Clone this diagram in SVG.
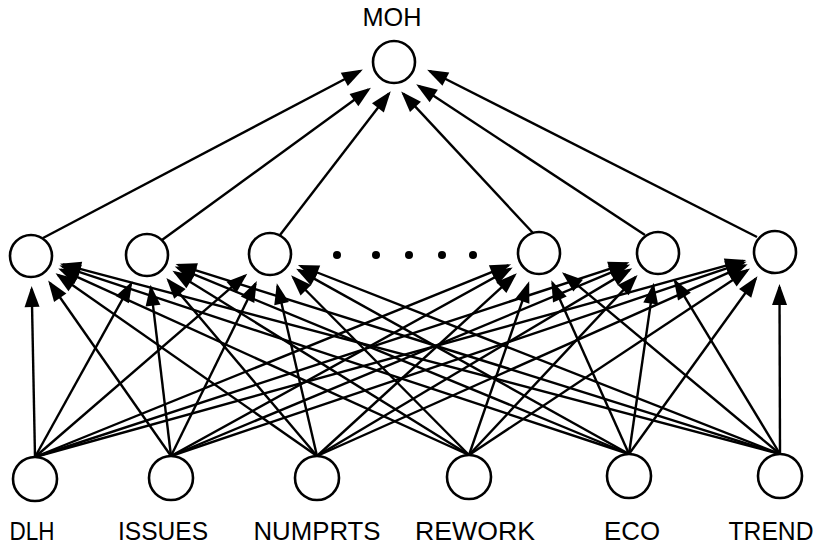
<svg xmlns="http://www.w3.org/2000/svg" width="817" height="546" viewBox="0 0 817 546">
<style>
.edges line{stroke:#000;stroke-width:2.4;fill:none;marker-end:url(#ah)}
.node circle{fill:#fff;stroke:#000;stroke-width:2.6}
.node text{font-family:"Liberation Sans",Arial,sans-serif;font-size:25px;fill:#000;text-anchor:middle}
.dot{fill:#000}
</style>
<defs>
<marker id="ah" markerUnits="userSpaceOnUse" markerWidth="24" markerHeight="16" refX="18" refY="7.5" orient="auto" overflow="visible">
<path d="M0,0 L21,7.5 L0,15 Z" fill="#000"/>
</marker>
</defs>
<rect width="817" height="546" fill="#fff"/>
<g id="connectors" class="edges">
<!-- hidden to MOH -->
<line x1="43" y1="238" x2="360.2" y2="71"/>
<line x1="162" y1="240" x2="368.5" y2="89.5"/>
<line x1="280" y1="235" x2="388.9" y2="93.6"/>
<line x1="533" y1="233" x2="403.2" y2="93.6"/>
<line x1="645" y1="235" x2="418.7" y2="86"/>
<line x1="757" y1="237" x2="429.8" y2="71"/>
<!-- DLH -->
<line x1="35" y1="457" x2="31.7" y2="289"/>
<line x1="35" y1="457" x2="131" y2="283.9"/>
<line x1="35" y1="457" x2="245" y2="275.6"/>
<line x1="35" y1="457" x2="508.4" y2="265.4"/>
<line x1="35" y1="457" x2="626.6" y2="263.3"/>
<line x1="35" y1="457" x2="743.2" y2="260.8"/>
<!-- ISSUES -->
<line x1="171" y1="456" x2="49.9" y2="283"/>
<line x1="171" y1="456" x2="150.9" y2="287.8"/>
<line x1="171" y1="456" x2="255.5" y2="283.6"/>
<line x1="171" y1="456" x2="510.1" y2="268.9"/>
<line x1="171" y1="456" x2="627.5" y2="265.7"/>
<line x1="171" y1="456" x2="743.7" y2="262.6"/>
<!-- NUMPRTS -->
<line x1="317" y1="456" x2="58" y2="274.9"/>
<line x1="317" y1="456" x2="168.3" y2="280.2"/>
<line x1="317" y1="456" x2="277.5" y2="286.1"/>
<line x1="317" y1="456" x2="514.6" y2="275.3"/>
<line x1="317" y1="456" x2="629.6" y2="269.9"/>
<line x1="317" y1="456" x2="744.9" y2="265.4"/>
<!-- REWORK -->
<line x1="469" y1="455" x2="61" y2="269.7"/>
<line x1="469" y1="455" x2="175" y2="272.4"/>
<line x1="469" y1="455" x2="293.2" y2="277.5"/>
<line x1="469" y1="455" x2="528.2" y2="284.2"/>
<line x1="469" y1="455" x2="635.5" y2="277.1"/>
<line x1="469" y1="455" x2="747.5" y2="270.2"/>
<!-- ECO -->
<line x1="629" y1="454" x2="62.3" y2="266.4"/>
<line x1="629" y1="454" x2="177.5" y2="267.6"/>
<line x1="629" y1="454" x2="298.8" y2="270.1"/>
<line x1="629" y1="454" x2="552.5" y2="283.1"/>
<line x1="629" y1="454" x2="653.3" y2="285.7"/>
<line x1="629" y1="454" x2="755.7" y2="278.7"/>
<!-- TREND -->
<line x1="780" y1="454" x2="62.9" y2="264.4"/>
<line x1="780" y1="454" x2="178.5" y2="264.9"/>
<line x1="780" y1="454" x2="300.7" y2="266"/>
<line x1="780" y1="454" x2="564.3" y2="274.1"/>
<line x1="780" y1="454" x2="675.1" y2="281.2"/>
<line x1="780" y1="454" x2="779.5" y2="287"/>
</g>
<g id="node-MOH" class="node"><circle cx="394" cy="62" r="21"/><text x="392" y="26" textLength="59" lengthAdjust="spacingAndGlyphs">MOH</text></g>
<g id="node-H1" class="node"><circle cx="31" cy="256" r="21"/></g>
<g id="node-H2" class="node"><circle cx="147" cy="255" r="21"/></g>
<g id="node-H3" class="node"><circle cx="270" cy="254" r="21"/></g>
<g id="node-H4" class="node"><circle cx="539" cy="253" r="21"/></g>
<g id="node-H5" class="node"><circle cx="658" cy="253" r="21"/></g>
<g id="node-H6" class="node"><circle cx="775" cy="252" r="21"/></g>
<g id="ellipsis">
<circle class="dot" cx="337" cy="255" r="4"/>
<circle class="dot" cx="376" cy="255" r="4"/>
<circle class="dot" cx="409" cy="255" r="4"/>
<circle class="dot" cx="442" cy="255" r="4"/>
<circle class="dot" cx="473" cy="255" r="4"/>
</g>
<g id="node-DLH" class="node"><circle cx="35" cy="479" r="22"/><text x="32" y="540" textLength="45" lengthAdjust="spacingAndGlyphs">DLH</text></g>
<g id="node-ISSUES" class="node"><circle cx="171" cy="478" r="22"/><text x="163" y="540" textLength="90" lengthAdjust="spacingAndGlyphs">ISSUES</text></g>
<g id="node-NUMPRTS" class="node"><circle cx="317" cy="478" r="22"/><text x="317" y="540" textLength="127" lengthAdjust="spacingAndGlyphs">NUMPRTS</text></g>
<g id="node-REWORK" class="node"><circle cx="469" cy="477" r="22"/><text x="475" y="540" textLength="120" lengthAdjust="spacingAndGlyphs">REWORK</text></g>
<g id="node-ECO" class="node"><circle cx="629" cy="476" r="22"/><text x="632" y="540" textLength="56" lengthAdjust="spacingAndGlyphs">ECO</text></g>
<g id="node-TREND" class="node"><circle cx="780" cy="476" r="22"/><text x="771" y="540" textLength="85" lengthAdjust="spacingAndGlyphs">TREND</text></g>
</svg>
